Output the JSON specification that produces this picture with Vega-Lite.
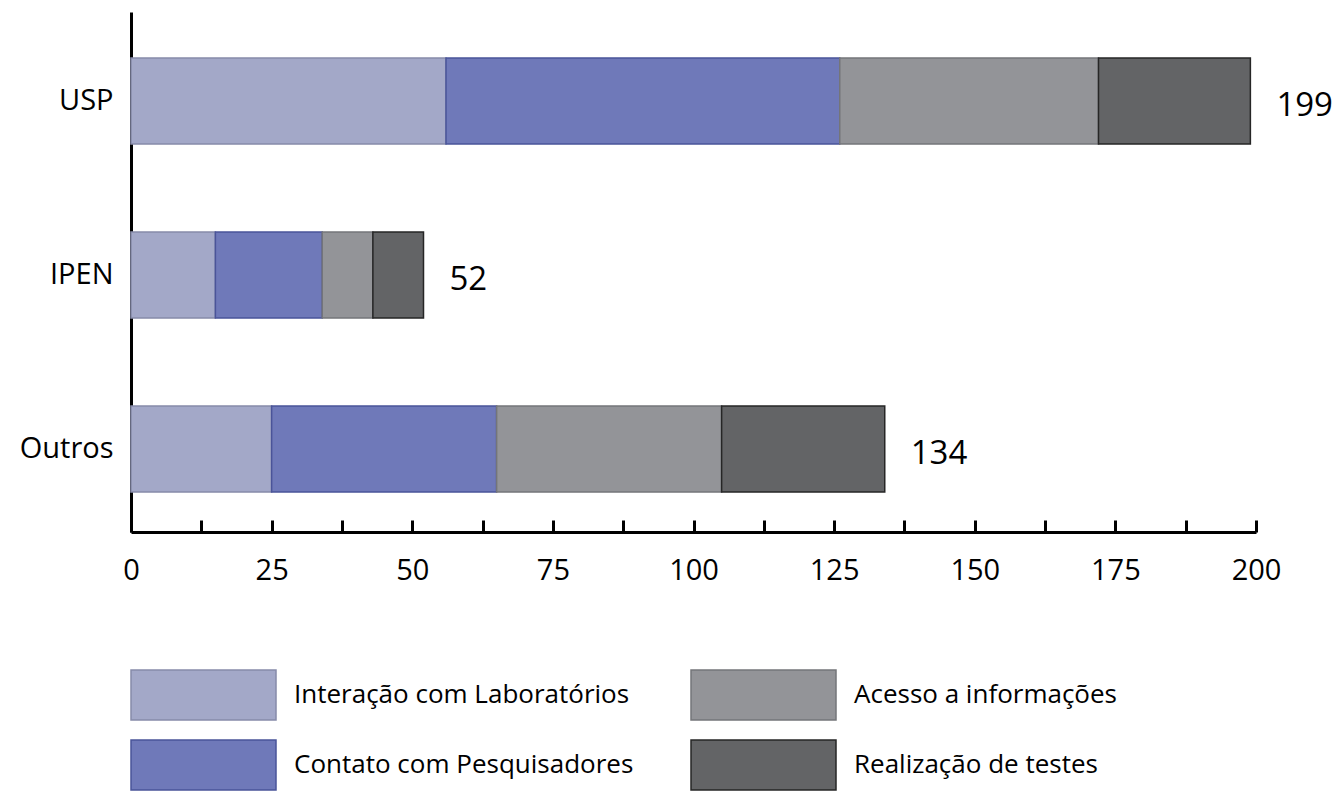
{
  "$schema": "https://vega.github.io/schema/vega-lite/v6.json",
  "autosize": {"type": "none"},
  "width": 1125,
  "height": 520,
  "padding": {"left": 131, "top": 12, "right": 79, "bottom": 259},
  "background": "white",
  "config": {
    "view": {"stroke": null},
    "font": "Open Sans",
    "text": {"font": "Open Sans"}
  },
  "data": {
    "values": [
      {"instituicao": "USP", "tipo": "Interação com Laboratórios", "ordem": 1, "valor": 56},
      {"instituicao": "USP", "tipo": "Contato com Pesquisadores", "ordem": 2, "valor": 70},
      {"instituicao": "USP", "tipo": "Acesso a informações", "ordem": 3, "valor": 46},
      {"instituicao": "USP", "tipo": "Realização de testes", "ordem": 4, "valor": 27},
      {"instituicao": "IPEN", "tipo": "Interação com Laboratórios", "ordem": 1, "valor": 15},
      {"instituicao": "IPEN", "tipo": "Contato com Pesquisadores", "ordem": 2, "valor": 19},
      {"instituicao": "IPEN", "tipo": "Acesso a informações", "ordem": 3, "valor": 9},
      {"instituicao": "IPEN", "tipo": "Realização de testes", "ordem": 4, "valor": 9},
      {"instituicao": "Outros", "tipo": "Interação com Laboratórios", "ordem": 1, "valor": 25},
      {"instituicao": "Outros", "tipo": "Contato com Pesquisadores", "ordem": 2, "valor": 40},
      {"instituicao": "Outros", "tipo": "Acesso a informações", "ordem": 3, "valor": 40},
      {"instituicao": "Outros", "tipo": "Realização de testes", "ordem": 4, "valor": 29}
    ]
  },
  "encoding": {
    "y": {
      "field": "instituicao",
      "type": "nominal",
      "sort": ["USP", "IPEN", "Outros"],
      "scale": {"paddingInner": 0.506, "paddingOuter": 0.247, "align": 0.535},
      "axis": {
        "title": null,
        "ticks": false,
        "domainColor": "black",
        "domainWidth": 3,
        "labelFontSize": 29,
        "labelColor": "black",
        "labelPadding": 18,
        "labelFont": "Open Sans"
      }
    }
  },
  "layer": [
    {
      "mark": {"type": "bar", "strokeWidth": 1.5},
      "encoding": {
        "x": {
          "field": "valor",
          "type": "quantitative",
          "stack": "zero",
          "scale": {"domain": [0, 200], "nice": false},
          "axis": {
            "title": null,
            "grid": false,
            "values": [0, 12.5, 25, 37.5, 50, 62.5, 75, 87.5, 100, 112.5, 125, 137.5, 150, 162.5, 175, 187.5, 200],
            "labelExpr": "datum.value % 25 == 0 ? datum.label : ''",
            "domainColor": "black",
            "domainWidth": 3,
            "tickColor": "black",
            "tickWidth": 3,
            "tickSize": -12,
            "labelPadding": 36,
            "labelFontSize": 29,
            "labelColor": "black",
            "labelFont": "Open Sans",
            "labelFlush": false
          }
        },
        "order": {"field": "ordem", "type": "quantitative"},
        "color": {
          "field": "tipo",
          "type": "nominal",
          "scale": {
            "domain": ["Interação com Laboratórios", "Contato com Pesquisadores", "Acesso a informações", "Realização de testes"],
            "range": ["#a3a8c8", "#6f79b9", "#939498", "#636466"]
          },
          "legend": {
            "title": null,
            "orient": "none",
            "legendX": -1,
            "legendY": 657,
            "columns": 2,
            "padding": 0,
            "symbolType": "M-1,-1H4.8V1H-1Z",
            "symbolSize": 2500,
            "symbolStrokeWidth": 1.5,
            "symbolOpacity": 1,
            "labelFontSize": 26,
            "labelFont": "Open Sans",
            "labelColor": "black",
            "labelOffset": 112,
            "labelLimit": 600,
            "columnPadding": 54,
            "rowPadding": 14
          }
        },
        "stroke": {
          "field": "tipo",
          "type": "nominal",
          "scale": {
            "domain": ["Interação com Laboratórios", "Contato com Pesquisadores", "Acesso a informações", "Realização de testes"],
            "range": ["#868ba9", "#4a5499", "#747579", "#262626"]
          },
          "legend": {
            "title": null,
            "orient": "none",
            "legendX": -1,
            "legendY": 657,
            "columns": 2,
            "padding": 0,
            "symbolType": "M-1,-1H4.8V1H-1Z",
            "symbolSize": 2500,
            "symbolStrokeWidth": 1.5,
            "symbolOpacity": 1,
            "labelFontSize": 26,
            "labelFont": "Open Sans",
            "labelColor": "black",
            "labelOffset": 112,
            "labelLimit": 600,
            "columnPadding": 54,
            "rowPadding": 14
          }
        }
      }
    },
    {
      "transform": [
        {"aggregate": [{"op": "sum", "field": "valor", "as": "total"}], "groupby": ["instituicao"]}
      ],
      "mark": {"type": "text", "align": "left", "baseline": "middle", "dx": 26, "dy": 5, "fontSize": 33, "font": "Open Sans", "color": "black"},
      "encoding": {
        "x": {"field": "total", "type": "quantitative"},
        "text": {"field": "total", "type": "quantitative"}
      }
    }
  ]
}
